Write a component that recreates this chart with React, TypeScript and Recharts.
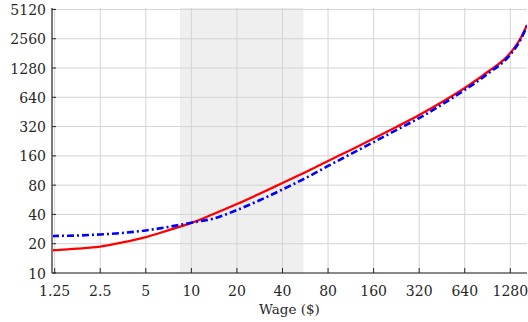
import { LineChart, Line, XAxis, YAxis, ReferenceArea, ReferenceLine } from 'recharts';

// hourly wage ($), sampled roughly every half doubling
const wage = [1.2, 1.25, 1.77, 2.5, 3.5, 5, 7, 10, 14, 20, 28, 40, 57, 80, 113, 160, 226, 320, 453, 640, 905, 1280, 1500, 1650];
// red solid curve
const fitted = [17.1, 17.2, 17.8, 18.7, 20.6, 23.4, 27.4, 32.7, 40.4, 51.2, 64.9, 84.2, 109, 142, 184, 241, 317, 421, 573, 798, 1165, 1827, 2606, 3546];
// blue dash-dot curve
const observed = [23.9, 24.0, 24.3, 24.9, 25.8, 27.4, 29.7, 32.9, 36.3, 44.4, 55.6, 72.2, 94.8, 126, 167, 222, 295, 392, 540, 761, 1111, 1763, 2516, 3463];

const xTicks = [1.25, 2.5, 5, 10, 20, 40, 80, 160, 320, 640, 1280];
const yTicks = [10, 20, 40, 80, 160, 320, 640, 1280, 2560, 5120];
const band = [8.4, 55];

const xDomain = [1.2, 1650];
const yDomain = [10, 5300];

const data = wage.map((w, i) => ({ wage: w, fitted: fitted[i], observed: observed[i] }));

const font = 'DejaVu Serif';
const ink = '#262626';
const gridColor = '#d4d4d4';

function BottomTick({ x, y, payload }: any) {
  return (
    <g>
      <line x1={x} y1={y} x2={x} y2={y - 5} stroke={ink} />
      <text x={x} y={y + 22.5} textAnchor="middle" fontFamily={font} fontSize={14} fill={ink}>
        {payload.value}
      </text>
    </g>
  );
}

function TopTick({ x, y }: any) {
  return <line x1={x} y1={y} x2={x} y2={y + 4} stroke={ink} />;
}

function LeftTick({ x, y, payload }: any) {
  return (
    <g>
      <line x1={x} y1={y} x2={x + 4} y2={y} stroke={ink} />
      <text x={x - 6} y={y + 5.5} textAnchor="end" fontFamily={font} fontSize={14} fill={ink}>
        {payload.value}
      </text>
    </g>
  );
}

function RightTick({ x, y }: any) {
  return <line x1={x} y1={y} x2={x - 4} y2={y} stroke={ink} />;
}

function AxisTitle({ viewBox }: any) {
  const { x, y, width } = viewBox;
  return (
    <text x={x + width / 2} y={y + 41} textAnchor="middle" fontFamily={font} fontSize={13.5} fill={ink}>
      Wage ($)
    </text>
  );
}

export default function App() {
  return (
    <div style={{ position: 'absolute', left: 0, top: 0 }}>
      <LineChart width={528} height={322} data={data} margin={{ top: 8, right: 1, left: 0, bottom: 0 }}>
        <ReferenceArea x1={band[0]} x2={band[1]} fill="#efefef" fillOpacity={1} stroke="none" ifOverflow="hidden" />
        {xTicks.map((t) => (
          <ReferenceLine key={`gx${t}`} x={t} stroke={gridColor} strokeWidth={1} ifOverflow="visible" />
        ))}
        {yTicks.map((t) => (
          <ReferenceLine key={`gy${t}`} y={t} stroke={gridColor} strokeWidth={1} ifOverflow="visible" />
        ))}
        <XAxis
          dataKey="wage"
          type="number"
          scale="log"
          domain={xDomain}
          ticks={xTicks}
          allowDataOverflow
          height={49}
          tickSize={0}
          tickMargin={0}
          tickLine={false}
          axisLine={{ stroke: ink }}
          tick={<BottomTick />}
          interval={0}
          label={<AxisTitle />}
        />
        <XAxis
          xAxisId="top"
          orientation="top"
          type="number"
          scale="log"
          domain={xDomain}
          ticks={xTicks}
          allowDataOverflow
          height={0}
          tickSize={0}
          tickMargin={0}
          tickLine={false}
          axisLine={{ stroke: '#3a3a3a' }}
          tick={<TopTick />}
          interval={0}
        />
        <YAxis
          type="number"
          scale="log"
          domain={yDomain}
          ticks={yTicks}
          allowDataOverflow
          width={52}
          tickSize={0}
          tickMargin={0}
          tickLine={false}
          axisLine={{ stroke: '#7a7a7a', strokeWidth: 2 }}
          tick={<LeftTick />}
          interval={0}
        />
        <YAxis
          yAxisId="right"
          orientation="right"
          type="number"
          scale="log"
          domain={yDomain}
          ticks={yTicks}
          allowDataOverflow
          width={0}
          tickSize={0}
          tickMargin={0}
          tickLine={false}
          axisLine={false}
          tick={<RightTick />}
          interval={0}
        />
        <Line
          dataKey="fitted"
          type="monotone"
          stroke="#ff0000"
          strokeWidth={2.3}
          dot={false}
          isAnimationActive={false}
        />
        <Line
          dataKey="observed"
          type="monotone"
          stroke="#0000ff"
          strokeWidth={2.6}
          strokeDasharray="7 3 2 3"
          dot={false}
          isAnimationActive={false}
        />
      </LineChart>
    </div>
  );
}
